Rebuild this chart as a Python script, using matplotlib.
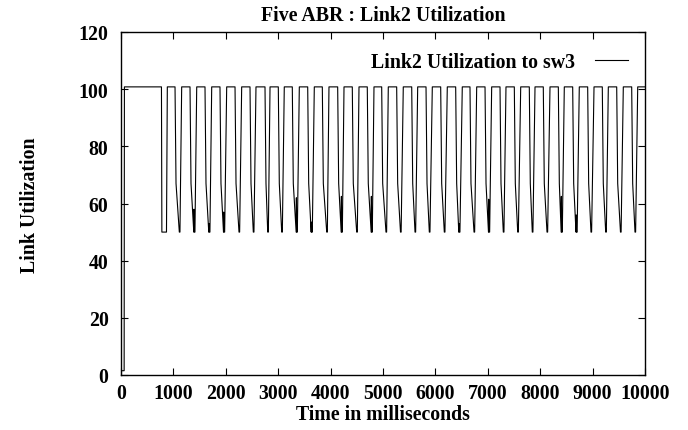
import matplotlib
matplotlib.use("Agg")
import matplotlib.pyplot as plt
import numpy as np

# ---- data (times in ms, utilization in %) ----
start_times = [0, 60, 65]
start_values = [1.5, 1.5, 100.8]
first_fall = [772, 780]          # first drop to 50
first_low_end = 868              # end of first 50% period

plateau_start = [884, 1158, 1445, 1731, 2017, 2303, 2576, 2844, 3116, 3403, 3689,
                 3969, 4256, 4542, 4828, 5101, 5387, 5662, 5941, 6227, 6513, 6788,
                 7074, 7347, 7628, 7901, 8187, 8460, 8746, 9027, 9300, 9586, 9861]
plateau_end = [1031, 1317, 1603, 1889, 2176, 2462, 2748, 3002, 3269, 3563, 3842,
               4135, 4414, 4700, 4975, 5261, 5548, 5821, 6101, 6387, 6660, 6947,
               7233, 7506, 7792, 8059, 8346, 8620, 8906, 9185, 9460, 9746, 10000]
trough_time = [1113, 1399, 1685, 1966, 2252, 2525, 2800, 3067, 3353, 3639, 3926,
               4212, 4498, 4784, 5057, 5334, 5611, 5884, 6170, 6456, 6737, 7023,
               7296, 7571, 7849, 8130, 8410, 8693, 8969, 9250, 9532, 9809]
knee_time = [1050, 1336, 1622, 1908, 2195, 2481, 2767, 3021, 3288, 3582, 3861,
             4154, 4433, 4719, 4994, 5280, 5567, 5840, 6120, 6406, 6679, 6966,
             7252, 7525, 7811, 8078, 8365, 8639, 8925, 9204, 9479, 9765]
high_value = 100.8
knee_value = 67
low_value = 50
spike_at = [1399, 1685, 1966, 3353, 3639, 4212, 4784, 6456, 7023, 8410, 8693]
spike_value = [58, 53, 57, 62, 53.5, 62.5, 62.5, 53, 61.5, 62.5, 56]

# ---- build the polyline from the cycle data ----
t = list(start_times)
v = list(start_values)
t += [first_fall[0], first_fall[1], first_low_end]
v += [high_value, low_value, low_value]
spikes = dict(zip(spike_at, spike_value))
for i, ps in enumerate(plateau_start):
    t += [ps, plateau_end[i]]
    v += [high_value, high_value]
    if i < len(trough_time):
        tr = trough_time[i]
        t += [knee_time[i]]
        v += [knee_value]
        if tr in spikes:
            t += [tr - 10, tr - 6, tr - 2]
            v += [low_value, spikes[tr], low_value]
        t += [tr, tr + 12]
        v += [low_value, low_value]

font = "Liberation Serif"
plt.rcParams['font.family'] = [font, 'DejaVu Serif']
plt.rcParams['font.weight'] = 'bold'
fs = 14.3

fig = plt.figure(figsize=(6.88, 4.31), dpi=100)
ax = fig.add_axes([121/688, 1 - 376/431, 524/688, 343/431])
ax.plot(t, v, color='black', lw=0.8, label='Link2 Utilization to sw3')

ax.set_xlim(0, 10000)
ax.set_ylim(0, 120)
ax.set_xticks(np.arange(0, 10001, 1000))
ax.set_yticks(np.arange(0, 121, 20))
ax.tick_params(direction='in', length=5, width=0.8, top=True, right=True,
               labelsize=fs)
ax.tick_params(axis='x', pad=6)
ax.tick_params(axis='y', pad=9)
for lab in ax.get_xticklabels() + ax.get_yticklabels():
    lab.set_fontweight('bold')
for s in ax.spines.values():
    s.set_linewidth(1.0)

fig.text(383/688, 1 - 16/431, 'Five ABR : Link2 Utilization', ha='center',
         va='center', fontsize=fs, fontweight='bold')
fig.text(383/688, 1 - 415/431, 'Time in milliseconds', ha='center',
         va='center', fontsize=fs, fontweight='bold')
fig.text(30/688, 1 - 205/431, 'Link Utilization', ha='center', va='center',
         rotation=90, fontsize=fs, fontweight='bold')

leg = ax.legend(loc='upper right', bbox_to_anchor=((628 - 121)/524, (376 - 53)/343),
                frameon=False, markerfirst=False, borderaxespad=0, borderpad=0,
                handlelength=1.65, handletextpad=1.0,
                prop={'family': font, 'weight': 'bold', 'size': fs})

fig.savefig('out.png', dpi=100)
